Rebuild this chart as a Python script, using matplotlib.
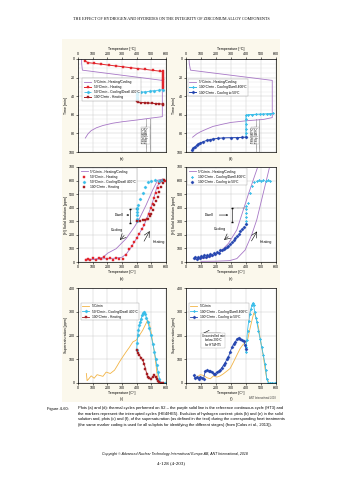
import matplotlib
matplotlib.use("Agg")
import matplotlib.pyplot as plt
from matplotlib.patches import Rectangle

plt.rcParams['font.family'] = ['Liberation Sans', 'DejaVu Sans']

PURPLE = "#a777c6"
RED = "#e3262d"
LBLUE = "#38bde9"
DRED = "#a61e22"
DBLUE = "#2445b0"
ORANGE = "#f2b445"

# ---- (a) thermal cycle, interrupted at 50/100 C/min
a_ref_T = [25, 25, 30, 575, 575, 500, 396, 300, 238, 170, 125, 90, 68, 50]
a_ref_t = [0, 5, 12, 23, 62, 63.5, 65.7, 67.5, 69, 71.5, 74, 77, 80.5, 85]
a_h50_T = [45, 68, 110, 160, 210, 260, 310, 360, 410, 460, 510, 560, 577,
           577, 577, 577, 577, 577, 577, 577, 577, 577]
a_h50_t = [1.8, 3.9, 4.7, 5.6, 6.6, 7.5, 8.4, 9.4, 10.3, 11.2, 12.2, 13.1, 13.4,
           15, 17, 19, 21, 23, 25, 27, 29, 31]
a_c50_T = [577, 550, 520, 490, 460, 430, 405, 400, 400, 400, 400, 400, 400]
a_c50_t = [33, 33.5, 34, 34.6, 35.2, 35.8, 36.3, 37.5, 39, 40.5, 42, 43.5, 44.5]
a_h100_T = [400, 410, 430, 455, 480, 505, 530, 555, 577, 577]
a_h100_t = [45.5, 46.5, 46.8, 47.0, 47.3, 47.6, 47.9, 48.2, 48.5, 49]

# ---- (d) thermal cycle, interrupted at 100 C/min
d_ref_T = [20, 22, 30, 575, 575, 516, 404, 300, 249, 180, 138, 100, 71, 44]
d_ref_t = [0, 5, 12, 23, 63, 65, 66.4, 68.2, 69.9, 72.5, 75.3, 78, 80.6, 84.1]
d_c100_T = [580, 560, 540, 515, 490, 465, 440, 415, 400, 400, 400, 400, 400, 400]
d_c100_t = [58.5, 58.7, 58.9, 59.1, 59.3, 59.5, 59.7, 59.9, 60.5, 65, 70, 75, 80, 84]
d_cool_T = [400, 370, 338, 300, 249, 215, 182, 160, 138, 115, 93, 80, 71, 60, 49, 38]
d_cool_t = [84, 84.3, 84.5, 84.6, 84.8, 85.3, 85.9, 86.7, 87.6, 88.9, 90.5, 91.7, 93, 94.3, 95.8, 98.2]
tss_T = [467, 489]
tss_labels = ["TSSd (467°C)", "TSSp (489°C)"]

# ---- (b) hydrogen in solid solution, 50 C/min cycle
b_ref_heat_T = [50, 150, 250, 300, 330, 360, 400, 450, 500, 540, 575]
b_ref_heat_p = [20, 22, 28, 35, 60, 105, 175, 270, 410, 560, 600]
b_ref_cool_T = [60, 120, 170, 204, 260, 328, 385, 419, 464, 509, 543, 575]
b_ref_cool_p = [15, 20, 35, 66, 98, 172, 259, 320, 419, 530, 603, 610]
b_h50_T = [57, 70, 85, 100, 120, 140, 160, 180, 200, 220, 240, 260, 280, 306,
           328, 351, 370, 385, 400, 419, 435, 453, 470, 487, 500, 509, 520,
           532, 545, 555, 565, 577, 590]
b_h50_p = [12, 25, 18, 30, 15, 28, 20, 35, 22, 30, 18, 32, 25, 25,
           49, 98, 120, 148, 175, 209, 240, 271, 320, 357, 400, 431, 470,
           505, 545, 579, 600, 603, 600]
b_c50_T = [575, 550, 525, 500, 475, 455, 440, 425, 410, 402, 400, 400, 400, 400, 400]
b_c50_p = [605, 600, 603, 598, 590, 555, 510, 465, 420, 400, 390, 370, 345, 320, 300]
b_h100_T = [400, 420, 441, 458, 475, 490, 498, 510, 521, 532, 543, 555, 566, 578, 589]
b_h100_p = [300, 305, 308, 312, 320, 340, 357, 385, 419, 450, 480, 515, 554, 580, 603]

# ---- (e) hydrogen in solid solution, 100 C/min cycle
e_ref_heat_T = [100, 200, 290, 339, 394, 438, 472, 505, 538, 555]
e_ref_heat_p = [5, 6, 10, 25, 88, 200, 312, 462, 612, 690]
e_ref_cool_T = [60, 95, 162, 228, 283, 339, 383, 416, 450, 475]
e_ref_cool_p = [20, 22, 37, 75, 137, 237, 387, 500, 610, 690]
e_c100_T = [560, 545, 530, 515, 500, 485, 470, 455, 440, 427, 410, 400, 400, 400, 400, 400, 400]
e_c100_p = [600, 603, 598, 601, 600, 604, 598, 590, 560, 512, 437, 412, 390, 360, 330, 300, 280]
e_cool_T = [400, 385, 372, 361, 350, 340, 328, 317, 306, 295, 283, 272, 261, 250, 239,
            228, 217, 206, 195, 185, 173, 162, 151, 140, 130, 120, 110, 100, 90, 80,
            70, 62, 55]
e_cool_p = [280, 255, 240, 225, 210, 195, 175, 162, 150, 135, 120, 112, 100, 95, 90,
            85, 70, 75, 60, 65, 52, 58, 45, 50, 38, 48, 35, 42, 30, 40, 25, 35, 30]

# ---- (c) supersaturation, 50 C/min cycle
c_ref_T = [57, 62, 70, 90, 110, 130, 147, 170, 192, 220, 249, 265, 283, 305, 328,
           350, 374, 396, 419, 441, 464, 475, 490, 498, 510, 521, 532, 543]
c_ref_p = [40, 10, 15, 30, 20, 35, 32, 28, 46, 40, 54, 70, 89, 110, 131,
           150, 173, 180, 201, 222, 251, 265, 240, 215, 170, 131, 75, 18]
c_c50_T = [400, 403, 407, 412, 419, 425, 430, 438, 446, 453, 460, 466, 475, 487,
           498, 510, 521, 530, 537, 546, 555, 566, 580, 590]
c_c50_p = [138, 170, 201, 222, 243, 258, 270, 285, 295, 300, 290, 275, 258, 230,
           201, 165, 131, 100, 75, 45, 18, 0, 0, 0]
c_h100_T = [400, 410, 419, 430, 441, 452, 460, 468, 475, 486, 498, 510, 521, 530,
            537, 546, 555, 566, 577]
c_h100_p = [138, 125, 117, 105, 96, 80, 60, 40, 25, 20, 18, 25, 32, 25, 18, 10, 4, 0, 0]

# ---- (f) supersaturation, 100 C/min cycle
f_ref_T = [73, 95, 117, 140, 162, 184, 206, 228, 250, 272, 294, 310, 328, 345, 361,
           378, 394, 410, 427, 440, 452, 462, 472, 483, 494, 505, 516, 527, 538, 550]
f_ref_p = [25, 35, 32, 22, 18, 30, 25, 30, 39, 50, 61, 80, 103, 125, 145,
           160, 170, 180, 230, 265, 295, 285, 265, 235, 190, 150, 110, 60, 20, 5]
f_c100_T = [400, 402, 405, 410, 418, 425, 432, 440, 445, 450, 458, 466, 472, 483,
            494, 505, 516, 527, 532, 538, 549, 560, 575, 590, 600]
f_c100_p = [131, 150, 180, 220, 260, 290, 310, 330, 337, 330, 300, 275, 258, 220,
            187, 150, 117, 80, 54, 18, 0, 0, 0, 0, 0]
f_cool_T = [400, 395, 385, 372, 361, 350, 340, 328, 318, 306, 294, 283, 272, 261, 250,
            239, 228, 217, 206, 195, 184, 173, 162, 151, 140, 128, 117, 106, 95, 84, 73, 62, 51]
f_cool_p = [145, 160, 175, 180, 187, 190, 185, 173, 165, 150, 131, 110, 100, 85, 75,
            65, 54, 50, 45, 40, 39, 45, 50, 52, 54, 50, 18, 20, 25, 18, 25, 20, 32]

header = "THE EFFECT OF HYDROGEN AND HYDRIDES ON THE INTEGRITY OF ZIRCONIUM ALLOY COMPONENTS"
caption = ("Plots (a) and (d): thermal cycles performed on S2 \u2013 the purple solid line is the reference continuous cycle (HT3) and\n"
           "the markers represent the interrupted cycles (HE4/HE5). Evolution of hydrogen content: plots (b) and (e) in the solid\n"
           "solution and, plots (c) and (f), of the supersaturation (as defined in the text) during the corresponding heat treatments\n"
           "(the same marker coding is used for all subplots for identifying the different stages) (from [Colas et al., 2013]).")

FS = 2.6
fig = plt.figure(figsize=(3.43, 4.80), dpi=100)
fig.patches.append(Rectangle((62 / 343, 1 - 402 / 480), 218 / 343, 363 / 480,
                             transform=fig.transFigure, facecolor="#fbf8ec",
                             edgecolor="none", zorder=-10))

LX = [78 / 343, 186 / 343]
W = [88 / 343, 90 / 343]
ROWS = [(1 - 152 / 480, 93 / 480), (1 - 262 / 480, 95 / 480), (1 - 383 / 480, 95 / 480)]


def make_ax(col, row):
    b, h = ROWS[row]
    ax = fig.add_axes([LX[col], b, W[col], h])
    ax.set_facecolor("white")
    for s in ax.spines.values():
        s.set_linewidth(0.5)
    ax.tick_params(labelsize=FS, length=1.2, width=0.4, pad=1)
    ax.set_xlim(0, 600)
    ax.set_xticks(range(0, 601, 100))
    ax.grid(True, color="#c4c4c4", linewidth=0.3)
    ax.set_axisbelow(True)
    return ax


def legend(ax, loc="upper left"):
    lg = ax.legend(loc=loc, fontsize=2.3, frameon=True, fancybox=False,
                   borderpad=0.5, handlelength=2.2, labelspacing=0.35,
                   borderaxespad=0.3)
    lg.get_frame().set_linewidth(0.3)
    lg.get_frame().set_edgecolor("#888888")


def cycle_ax(col):
    ax = make_ax(col, 0)
    ax.set_ylim(100, 0)
    ax.set_yticks(range(0, 101, 20))
    ax.set_yticks(range(0, 101, 5), minor=True)
    ax.tick_params(which="minor", length=0)
    ax.grid(True, which="minor", axis="y", color="#dddddd", linewidth=0.25)
    ax.xaxis.tick_top()
    ax.xaxis.set_label_position("top")
    ax.set_xlabel("Temperature [°C]", fontsize=FS, labelpad=1.5)
    ax.set_ylabel("Time [min]", fontsize=FS, labelpad=1)
    for T, lab in zip(tss_T, tss_labels):
        ax.plot([T, T], [64, 100], ls=(0, (1, 1)), color="black", lw=0.4)
        ax.text(T - 4, 82, lab, rotation=90, fontsize=1.9, ha="right", va="center",
                bbox=dict(facecolor="white", edgecolor="#888888", lw=0.2, pad=0.4))
    return ax


def h_ax(col, row, ylabel, ymax):
    ax = make_ax(col, row)
    ax.set_ylim(0, ymax)
    ax.set_yticks(range(0, ymax + 1, 100))
    ax.set_xlabel("Temperature [C°]", fontsize=FS, labelpad=1)
    ax.set_ylabel(ylabel, fontsize=FS, labelpad=1)
    return ax


mk = dict(ms=1.6, mew=0.3)

# (a)
ax = cycle_ax(0)
ax.plot(a_ref_T, a_ref_t, color=PURPLE, lw=0.6, label="5°C/min - Heating/Cooling")
ax.plot(a_h50_T, a_h50_t, color=RED, lw=0.7, marker="s", **mk, label="50°C/min - Heating")
ax.plot(a_c50_T, a_c50_t, color=LBLUE, lw=0.6, ls="--", marker="D", **mk,
        label="50°C/min - Cooling/Dwell 400°C")
ax.plot(a_h100_T, a_h100_t, color=DRED, lw=0.7, marker="s", **mk, label="100°C/min - Heating")
legend(ax, loc=(0.05, 0.55))
fig.text((78 + 166) / 2 / 343, 1 - 159 / 480, "(a)", fontsize=FS, ha="center", va="center")

# (d)
ax = cycle_ax(1)
ax.plot(d_ref_T, d_ref_t, color=PURPLE, lw=0.6, label="5°C/min - Heating/Cooling")
ax.plot(d_c100_T, d_c100_t, color=LBLUE, lw=0.7, marker="P", **mk,
        label="100°C/min - Cooling/Dwell 400°C")
ax.plot(d_cool_T, d_cool_t, color=DBLUE, lw=0.7, marker="D", **mk,
        label="100°C/min - Cooling to 50°C")
legend(ax, loc=(0.02, 0.6))
fig.text((186 + 276) / 2 / 343, 1 - 159 / 480, "(d)", fontsize=FS, ha="center", va="center")

# (b)
ax = h_ax(0, 1, "[H] Solid Solution [ppm]", 700)
ax.plot(b_ref_heat_T, b_ref_heat_p, color=PURPLE, lw=0.6, label="5°C/min - Heating/Cooling")
ax.plot(b_ref_cool_T, b_ref_cool_p, color=PURPLE, lw=0.6)
ax.plot(b_h50_T, b_h50_p, ls="none", color=RED, marker="s", **mk, label="50°C/min - Heating")
ax.plot(b_c50_T, b_c50_p, ls="none", color=LBLUE, marker="D", **mk,
        label="50°C/min - Cooling/Dwell 400°C")
ax.plot(b_h100_T, b_h100_p, ls="none", color=DRED, marker="s", **mk, label="100°C/min - Heating")
legend(ax)
ax.plot([355, 355], [288, 394], color="black", lw=0.4, marker="_", ms=2)
ax.plot([355, 400], [394, 394], color="black", lw=0.3, ls=(0, (1, 1)))
ax.annotate("Dwell", xy=(350, 346), xytext=(252, 346), fontsize=FS, va="center",
            arrowprops=dict(arrowstyle="->", lw=0.4))
ax.annotate("", xy=(272, 148), xytext=(328, 210), arrowprops=dict(arrowstyle="->", lw=0.4))
ax.text(268, 236, "Cooling", fontsize=FS, ha="center", va="center")
ax.annotate("", xy=(498, 246), xytext=(441, 135), arrowprops=dict(arrowstyle="->", lw=0.4))
ax.text(510, 147, "Heating", fontsize=FS, ha="left", va="center")
fig.text((78 + 166) / 2 / 343, 1 - 279 / 480, "(b)", fontsize=FS, ha="center", va="center")

# (e)
ax = h_ax(1, 1, "[H] Solid Solution [ppm]", 700)
ax.plot(e_ref_heat_T, e_ref_heat_p, color=PURPLE, lw=0.6, label="5°C/min - Heating/Cooling")
ax.plot(e_ref_cool_T, e_ref_cool_p, color=PURPLE, lw=0.6)
ax.plot(e_c100_T, e_c100_p, ls="none", color=LBLUE, marker="P", **mk,
        label="100°C/min - Cooling/Dwell 400°C")
ax.plot(e_cool_T, e_cool_p, ls="none", color=DBLUE, marker="D", **mk,
        label="100°C/min - Cooling to 50°C")
legend(ax)
ax.plot([307, 307], [292, 400], color="black", lw=0.4, marker="_", ms=2)
ax.plot([307, 400], [400, 400], color="black", lw=0.3, ls=(0, (1, 1)))
ax.annotate("Dwell", xy=(300, 346), xytext=(125, 346), fontsize=FS, va="center",
            arrowprops=dict(arrowstyle="->", lw=0.4))
ax.annotate("", xy=(239, 150), xytext=(296, 200), arrowprops=dict(arrowstyle="->", lw=0.4))
ax.text(227, 243, "Cooling", fontsize=FS, ha="center", va="center")
ax.annotate("", xy=(483, 243), xytext=(427, 137), arrowprops=dict(arrowstyle="->", lw=0.4))
ax.text(495, 147, "Heating", fontsize=FS, ha="left", va="center")
fig.text((186 + 276) / 2 / 343, 1 - 279 / 480, "(e)", fontsize=FS, ha="center", va="center")

# (c)
ax = h_ax(0, 2, "Supersaturation [ppm]", 400)
ax.plot(c_ref_T, c_ref_p, color=ORANGE, lw=0.6, label="5°C/min")
ax.plot(c_c50_T, c_c50_p, color=LBLUE, lw=0.6, marker="D", **mk,
        label="50°C/min - Cooling/Dwell 400°C")
ax.plot(c_h100_T, c_h100_p, color=DRED, lw=0.6, marker="s", **mk, label="100°C/min - Heating")
legend(ax, loc=(0.03, 0.66))
fig.text((78 + 166) / 2 / 343, 1 - 399 / 480, "(c)", fontsize=FS, ha="center", va="center")

# (f)
ax = h_ax(1, 2, "Supersaturation [ppm]", 400)
ax.plot(f_ref_T, f_ref_p, color=ORANGE, lw=0.6, label="5°C/min")
ax.plot(f_c100_T, f_c100_p, color=LBLUE, lw=0.6, marker="P", **mk,
        label="100°C/min - Cooling/Dwell 400°C")
ax.plot(f_cool_T, f_cool_p, color=DBLUE, lw=0.6, marker="D", **mk,
        label="100°C/min - Cooling to 50°C")
legend(ax, loc=(0.03, 0.66))
ax.annotate("", xy=(95, 210), xytext=(250, 210), arrowprops=dict(arrowstyle="->", lw=0.4))
ax.text(180, 180, "Uncontrolled rate\nbelow 200°C\nfor HT4/HT5", fontsize=2.1, ha="center",
        va="center", bbox=dict(facecolor="white", edgecolor="#888888", lw=0.2, pad=0.5))
fig.text((186 + 276) / 2 / 343, 1 - 399 / 480, "(f)", fontsize=FS, ha="center", va="center")
fig.text(276 / 343, 1 - 398 / 480, "ANT International 2018", fontsize=1.9, ha="right",
         va="center", color="#444444")

# page text
fig.text(0.5, 1 - 19 / 480, header, fontsize=3.0, ha="center", va="center",
         family="Liberation Serif")
fig.text(47 / 343, 1 - 409 / 480, "Figure 4-60:", fontsize=2.9, ha="left", va="center")
fig.text(78 / 343, 1 - 406.5 / 480, caption, fontsize=2.9, ha="left", va="top",
         linespacing=1.45)
fig.text(175 / 343, 1 - 454 / 480,
         "Copyright © Advanced Nuclear Technology International Europe AB, ANT International, 2018",
         fontsize=2.5, ha="center", va="center", style="italic")
fig.text(171 / 343, 1 - 463 / 480, "4-128 (4-203)", fontsize=3.6, ha="center", va="center",
         family="Liberation Serif")

fig.savefig("out.png", dpi=100)
